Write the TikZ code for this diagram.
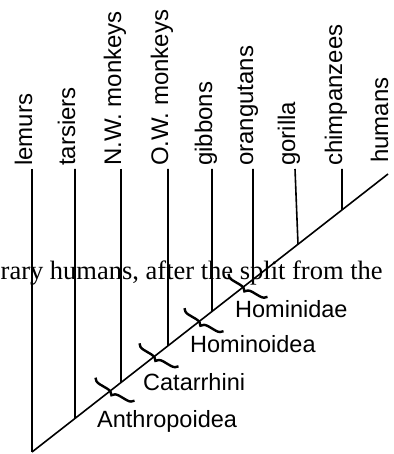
\documentclass[tikz,border=0pt]{standalone}
\usepackage{fontspec}
\setmainfont{Liberation Serif}
\setsansfont{Liberation Sans}
\usetikzlibrary{calc, decorations.pathreplacing}

\tikzset{
  taxon/.style  ={rotate=90, anchor=base west, inner xsep=3pt, inner ysep=0pt,
                  font=\sffamily\fontsize{24}{26}\selectfont},
  clade/.style  ={anchor=base west, inner sep=0pt,
                  font=\sffamily\fontsize{23.5}{25}\selectfont},
  branch/.style ={line width=1.6pt},
  spine/.style  ={line width=1.6pt},
  cbrace/.style ={decorate, decoration={brace, amplitude=7pt},
                  line width=2.4pt},
  strayline/.style={anchor=base west, inner sep=0pt,
                    font=\fontsize{26.5}{28}\selectfont},
}

\begin{document}
\begin{tikzpicture}[x=1pt, y=-1pt]
\useasboundingbox (0,0) rectangle (393,454);

% line of body text running through the figure
\node[strayline] (stray) at (0.5,279) {rary humans, after the split from the};

% spine
\coordinate (root) at (32,452);
\coordinate (tip)  at (388,174);
\draw[spine] (root) -- (tip);
\node[taxon] (humans) at (388,166) {humans};

% leaves
\foreach \id/\xt/\xb/\lab in {lem/32/32/lemurs,
                              tar/75/75/tarsiers,
                              nwm/121/121/N.W. monkeys,
                              owm/168/168/O.W. monkeys,
                              gib/212/212/gibbons,
                              ora/253/253/orangutans,
                              gor/295/298/gorilla,
                              chi/342/342/chimpanzees} {
  \pgfmathsetmacro\f{(\xb-32)/356}
  \coordinate (\id-top)  at (\xt,169);
  \coordinate (\id-fork) at ($(root)!\f!(tip)$);
  \node[taxon] (\id) at (\id-top) {\lab};
  \draw[branch] (\id-top) -- (\id-fork);
}

% clades
\foreach \id/\xc/\lx/\ly/\lab in {anth/115/97/427/Anthropoidea,
                                  cat/159/143/390/Catarrhini,
                                  hoid/204/190/352/Hominoidea,
                                  hid/248/235/317/Hominidae} {
  \pgfmathsetmacro\f{(\xc-32)/356}
  \coordinate (\id-mid) at ($(root)!\f!(tip)+(0,2)$);
  \coordinate (\id-a) at ($(\id-mid)+(19.5,11.5)$);
  \coordinate (\id-b) at ($(\id-mid)+(-19.5,-11.5)$);
  \draw[cbrace] (\id-a) -- (\id-b);
  \node[clade] (\id) at (\lx,\ly) {\lab};
}

\end{tikzpicture}
\end{document}
